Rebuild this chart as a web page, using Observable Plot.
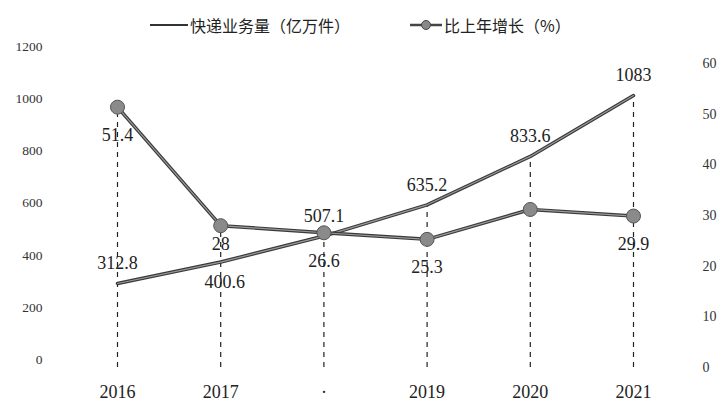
<!DOCTYPE html>
<html><head><meta charset="utf-8">
<script src="https://cdn.jsdelivr.net/npm/d3@7"></script>
<script src="https://cdn.jsdelivr.net/npm/@observablehq/plot@0.6"></script>
<style>
body{margin:0;background:#fff;}
#legend{position:relative;height:40px;width:724px;font-family:"Noto Sans CJK SC",sans-serif;font-size:16px;color:#222;}
#legend .item{position:absolute;top:13px;display:flex;align-items:center;white-space:nowrap;}
</style>
</head><body>
<div id="legend"></div>
<div id="chart"></div>
<script>
const years = [2016, 2017, 2018, 2019, 2020, 2021];
const yearLabels = ["2016", "2017", "·", "2019", "2020", "2021"];
const volume = [312.8, 400.6, 507.1, 635.2, 833.6, 1083];
const volumeLabels = ["312.8", "400.6", "507.1", "635.2", "833.6", "1083"];
const growth = [51.4, 28, 26.6, 25.3, 31.2, 29.9];
const growthLabels = ["51.4", "28", "26.6", "25.3", "", "29.9"];
const leftTicks = [0, 200, 400, 600, 800, 1000, 1200];
const rightTicks = [0, 10, 20, 30, 40, 50, 60];
const seriesNames = ["快递业务量（亿万件）", "比上年增长（%）"];

// axis alignment as printed in the original figure
const leftAxisPos = v => v * 1.07;          // left tick labels sit slightly off the data scale
const pct = p => -31.6 + 20.76 * p;         // right axis (0–60 %) onto the volume scale

const rows = years.map((y, i) => ({
  year: y, vol: volume[i], g: pct(growth[i]), vl: volumeLabels[i], gl: growthLabels[i]
}));

// legend
document.getElementById("legend").innerHTML =
  `<div class="item" style="left:150px"><svg width="38" height="10"><line x1="0" y1="5" x2="38" y2="5" stroke="#333" stroke-width="2"/></svg><span style="margin-left:2px">${seriesNames[0]}</span></div>` +
  `<div class="item" style="left:410px"><svg width="32" height="12"><line x1="0" y1="6" x2="32" y2="6" stroke="#444" stroke-width="2.5"/><circle cx="16" cy="6" r="4.5" fill="#888" stroke="#444"/></svg><span style="margin-left:2px">${seriesNames[1]}</span></div>`;

const serif = "'Liberation Serif','DejaVu Serif',serif";
const below = new Set([2017]);

const chart = Plot.plot({
  width: 724,
  height: 361,
  marginTop: 26.5,
  marginBottom: 41.7,
  marginLeft: 117,
  marginRight: 91,
  style: {fontFamily: serif, background: "#fff", color: "#333"},
  x: {domain: [2016, 2021], axis: null},
  y: {domain: [0, 1200], axis: null},
  marks: [
    Plot.ruleX(rows, {x: "year", y1: pct(0), y2: d => Math.max(d.vol, d.g), stroke: "#222", strokeWidth: 1.2, strokeDasharray: "5,5"}),
    Plot.line(rows, {x: "year", y: "vol", stroke: "#3a3a3a", strokeWidth: 3.5}),
    Plot.line(rows, {x: "year", y: "vol", stroke: "#9a9a9a", strokeWidth: 1.2}),
    Plot.line(rows, {x: "year", y: "g", stroke: "#3a3a3a", strokeWidth: 3.5}),
    Plot.line(rows, {x: "year", y: "g", stroke: "#9a9a9a", strokeWidth: 1.2}),
    Plot.dot(rows, {x: "year", y: "g", r: 7, fill: "#8a8a8a", stroke: "#555", strokeWidth: 1}),
    Plot.text(rows.filter(d => !below.has(d.year)), {x: "year", y: "vol", text: "vl", dy: -20, fontSize: 18, fill: "#222"}),
    Plot.text(rows.filter(d => below.has(d.year)), {x: "year", y: "vol", text: "vl", dy: 20, dx: 4, fontSize: 18, fill: "#222"}),
    Plot.text(rows.filter(d => !below.has(d.year)), {x: "year", y: "g", text: "gl", dy: 28, fontSize: 18, fill: "#222"}),
    Plot.text(rows.filter(d => below.has(d.year)), {x: "year", y: "g", text: "gl", dy: 19, fontSize: 18, fill: "#222"}),
    Plot.axisX({ticks: years, tickSize: 0, tickPadding: 25, fontSize: 18, fill: "#222", label: null,
      tickFormat: d => yearLabels[years.indexOf(d)]}),
    Plot.axisY({anchor: "left", ticks: leftTicks.map(leftAxisPos), tickSize: 0, tickPadding: 75, fontSize: 13.5, fill: "#333", label: null,
      tickFormat: v => String(Math.round(v / 1.07))}),
    Plot.axisY({anchor: "right", ticks: rightTicks.map(pct), tickSize: 0, tickPadding: 69, fontSize: 14, fill: "#333", label: null,
      tickFormat: v => String(Math.round((v + 31.6) / 20.76))})
  ]
});
document.getElementById("chart").appendChild(chart);
</script>
</body></html>
